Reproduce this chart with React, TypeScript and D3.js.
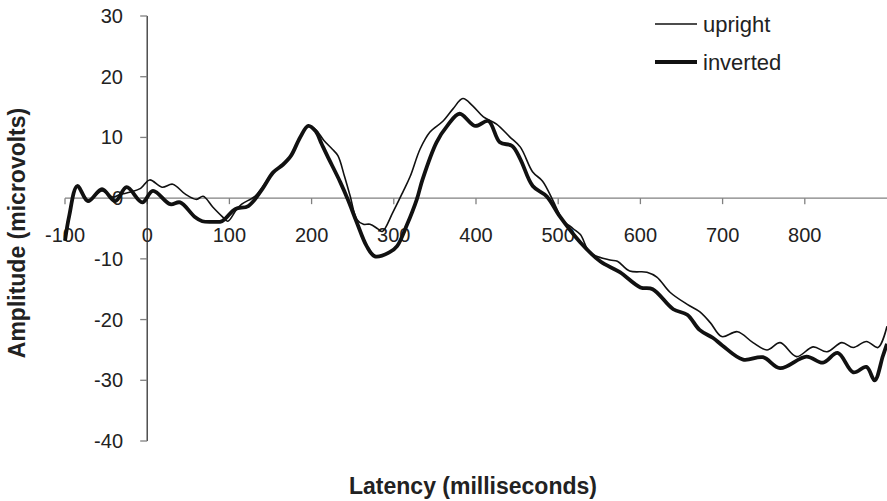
import React from "react";
import * as d3 from "d3";

const uprightMs = [-100, -95, -85, -72, -55, -42, -33, -20, -8, 3, 18, 31, 46, 60, 68, 80, 91, 98, 108, 115, 131, 140, 153, 165, 175, 186, 196, 205, 215, 225, 232, 240, 247, 255, 263, 271, 281, 286, 299, 311, 320, 332, 344, 360, 372, 384, 396, 409, 425, 441, 454, 469, 481, 494, 505, 518, 527, 539, 563, 572, 587, 608, 620, 636, 657, 672, 685, 699, 718, 737, 754, 770, 790, 810, 827, 845, 859, 875, 889, 900];
const uprightUv = [-7, -3, 1.8, -0.3, 1.2, 0.2, 0.6, 1.0, 1.6, 3.0, 1.8, 2.3, 0.7, -0.2, 0.3, -1.5, -3.0, -3.8, -2.0, -1.0, 0.3, 1.8, 4.2, 5.5, 7, 10, 11.9, 11.3, 9.5, 8.1, 7.0, 3.6, 0.3, -3.5, -4.3, -4.3, -5.1, -5.5, -2.3, 1.0, 3.6, 8.1, 10.9, 12.7, 14.7, 16.4, 15.2, 13.4, 12.2, 10.1, 8.4, 4.3, 2.8, -0.5, -3.5, -5.0, -6.0, -9.0, -10.2, -10.4, -12.0, -12.2, -13.0, -15.5, -17.5, -18.7, -20.5, -22.8, -22.0, -23.8, -25.0, -23.8, -26.1, -24.5, -25.3, -23.8, -24.6, -23.6, -24.6, -21.1];

const invertedMs = [-100, -95, -85, -72, -55, -39, -25, -6, 7, 28, 40, 58, 67, 80, 91, 107, 123, 140, 153, 165, 175, 186, 196, 205, 212, 219, 235, 244, 255, 267, 277, 295, 304, 316, 328, 335, 352, 365, 380, 399, 415, 429, 444, 454, 469, 486, 502, 527, 551, 575, 600, 615, 640, 657, 672, 688, 700, 725, 749, 770, 802, 822, 840, 859, 875, 885, 895, 900];
const invertedUv = [-7, -3, 2.0, -0.5, 1.5, -0.5, 1.8, -0.7, 1.2, -1.0, -0.7, -3.1, -3.8, -3.9, -3.8, -1.8, -1.3, 1.5, 4.2, 5.5, 7, 10, 11.9, 11.0, 9.0, 7.0, 2.6, -0.2, -4.0, -7.9, -9.6, -8.9, -7.9, -4.4, -0.2, 3.1, 9.2, 11.9, 13.9, 11.9, 12.7, 9.2, 8.6, 6.4, 2.0, 0.3, -3.0, -7.3, -10.4, -12.2, -14.7, -15.0, -18.3, -19.2, -21.7, -23.0, -24.3, -26.6, -26.2, -28.0, -26.1, -27.1, -25.5, -28.7, -27.8, -30.0, -26.0, -24.0];

const xTicks = [-100, 0, 100, 200, 300, 400, 500, 600, 700, 800];
const yTicks = [30, 20, 10, 0, -10, -20, -30, -40];

const seriesNames = ["upright", "inverted"];

const FONT = "'Liberation Sans', Arial, Helvetica, sans-serif";

export default function App() {
  const W = 887;
  const H = 501;
  const x = d3.scaleLinear().domain([-100, 900]).range([65, 887]);
  const y = d3.scaleLinear().domain([-40, 30]).range([441, 16]);

  const line = d3
    .line<[number, number]>()
    .x((d) => x(d[0]))
    .y((d) => y(d[1]))
    .curve(d3.curveCatmullRom.alpha(0.5));

  const up: [number, number][] = uprightMs.map((m, i) => [m, uprightUv[i]]);
  const inv: [number, number][] = invertedMs.map((m, i) => [m, invertedUv[i]]);

  const x0 = x(0);
  const y0 = y(0);

  return (
    <svg
      width={W}
      height={H}
      style={{ position: "absolute", left: 0, top: 0, background: "#fff" }}
      fontFamily={FONT}
    >
      <rect x={0} y={0} width={W} height={H} fill="#fff" />
      {/* x axis at zero */}
      <line x1={x(-100)} x2={x(900)} y1={y0} y2={y0} stroke="#808080" strokeWidth={1.3} />
      {xTicks.map((t) => (
        <g key={"xt" + t}>
          <line x1={x(t)} x2={x(t)} y1={y0} y2={y0 + 6} stroke="#808080" strokeWidth={1.3} />
          <text x={x(t)} y={242} textAnchor="middle" fontSize={20} fill="#222">
            {t}
          </text>
        </g>
      ))}
      {/* y axis */}
      <line x1={x0} x2={x0} y1={y(30)} y2={y(-40)} stroke="#333" strokeWidth={1.3} />
      {yTicks.map((t) => (
        <g key={"yt" + t}>
          <line x1={x0 - 7} x2={x0} y1={y(t)} y2={y(t)} stroke="#808080" strokeWidth={1.3} />
          <text x={123} y={y(t) + 7} textAnchor="end" fontSize={20} fill="#222">
            {t}
          </text>
        </g>
      ))}
      {/* series */}
      <path d={line(up) || ""} fill="none" stroke="#111" strokeWidth={1.6} strokeLinejoin="round" />
      <path d={line(inv) || ""} fill="none" stroke="#111" strokeWidth={3.8} strokeLinejoin="round" />
      {/* legend */}
      <line x1={655} x2={697} y1={24} y2={24} stroke="#111" strokeWidth={1.6} />
      <text x={703} y={32} fontSize={22} fill="#222">
        {seriesNames[0]}
      </text>
      <line x1={655} x2={697} y1={62} y2={62} stroke="#111" strokeWidth={3.8} />
      <text x={703} y={70} fontSize={22} fill="#222">
        {seriesNames[1]}
      </text>
      {/* axis titles */}
      <text
        transform={`translate(25, 233) rotate(-90)`}
        textAnchor="middle"
        fontSize={23}
        fontWeight="bold"
        fill="#222"
      >
        Amplitude (microvolts)
      </text>
      <text x={473} y={494} textAnchor="middle" fontSize={23} fontWeight="bold" fill="#222">
        Latency (milliseconds)
      </text>
    </svg>
  );
}
